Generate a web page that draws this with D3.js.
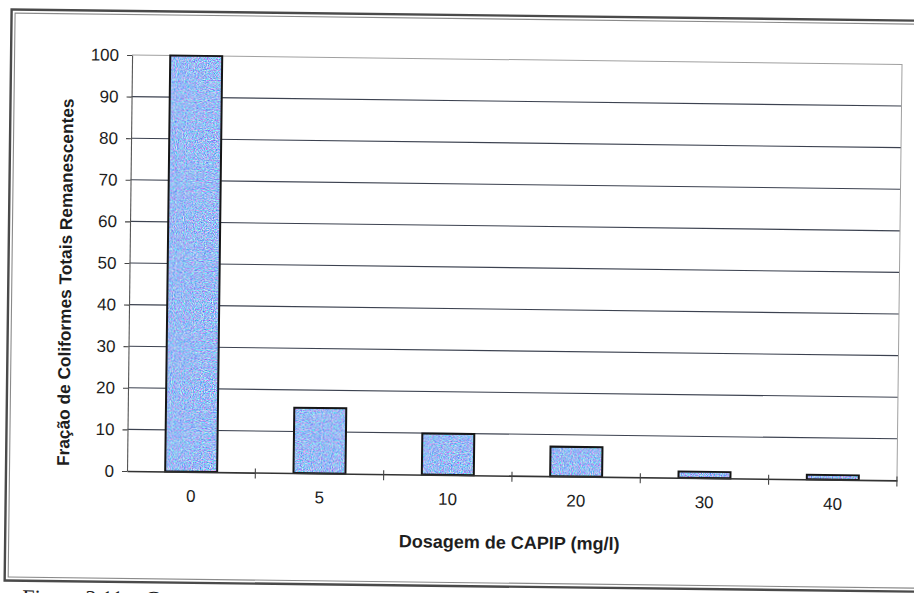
<!DOCTYPE html>
<html>
<head>
<meta charset="utf-8">
<script src="https://cdn.jsdelivr.net/npm/d3@7"></script>
<style>
  html, body { margin: 0; padding: 0; background: #fff; }
  svg { display: block; }
  text { font-family: "Liberation Sans", Arial, sans-serif; fill: #1e1e1e; }
</style>
</head>
<body>
<svg id="chart" width="914" height="593"></svg>
<script>
// Remaining total coliform fraction per CAPIP dose
const doses = ["0", "5", "10", "20", "30", "40"];
const remaining = [100, 15.7, 9.9, 7.1, 1.5, 1.1];
const yTicks = [0, 10, 20, 30, 40, 50, 60, 70, 80, 90, 100];
const yTitle = "Fração de Coliformes Totais Remanescentes";
const xTitle = "Dosagem de CAPIP (mg/l)";
const caption = "Figura 3.11 – Co";

const W = 914, H = 593;
const plot = { left: 127, top: 55, width: 770, height: 416 };
const tilt = 0.7; // the printed page sits slightly skewed

const svg = d3.select("#chart");
const defs = svg.append("defs");

// grainy light-blue fill used by the bars
const grain = defs.append("filter").attr("id", "grain")
  .attr("x", 0).attr("y", 0).attr("width", 1).attr("height", 1)
  .attr("color-interpolation-filters", "sRGB");
grain.append("feTurbulence").attr("type", "fractalNoise")
  .attr("baseFrequency", 0.9).attr("numOctaves", 2).attr("seed", 7).attr("result", "n");
grain.append("feColorMatrix").attr("in", "n").attr("type", "matrix")
  .attr("values", "0 1.3 0 0 -0.05  1.2 0 0 0 0.13  0 0 0.4 0 0.76  0 0 0 0 1")
  .attr("result", "c");
grain.append("feComposite").attr("in", "c").attr("in2", "SourceGraphic").attr("operator", "in");

const root = svg.append("g")
  .attr("transform", `rotate(${tilt}, ${plot.left}, ${plot.top + plot.height})`);

// outer double frame
root.append("rect").attr("x", 6).attr("y", 11).attr("width", 960).attr("height", 571)
  .attr("fill", "none").attr("stroke", "#4a4a4a").attr("stroke-width", 2.4);
root.append("rect").attr("x", 9.5).attr("y", 14.5).attr("width", 955).attr("height", 564)
  .attr("fill", "none").attr("stroke", "#8a8a8a").attr("stroke-width", 1.1);

const g = root.append("g").attr("transform", `translate(${plot.left},${plot.top})`);

const x = d3.scaleBand().domain(doses).range([0, plot.width]).padding(0);
const y = d3.scaleLinear().domain([0, 100]).range([plot.height, 0]);

// horizontal gridlines
g.append("g").selectAll("line")
  .data(yTicks.filter(v => v > 0 && v < 100))
  .join("line")
  .attr("x1", 0).attr("x2", plot.width)
  .attr("y1", d => y(d)).attr("y2", d => y(d))
  .attr("stroke", "#3c4250").attr("stroke-width", 1.1);

// plot area border (top and right)
g.append("path")
  .attr("d", `M0,${y(100)}H${plot.width}V${y(0)}`)
  .attr("fill", "none").attr("stroke", "#a0a0a0").attr("stroke-width", 1);

// bars
const barW = x.bandwidth() * 0.405;
const bars = g.append("g").selectAll("g").data(doses).join("g");
bars.append("rect")
  .attr("x", d => x(d) + (x.bandwidth() - barW) / 2)
  .attr("y", (d, i) => y(remaining[i]))
  .attr("width", barW)
  .attr("height", (d, i) => y(0) - y(remaining[i]))
  .attr("fill", "#a0b8ee")
  .attr("filter", "url(#grain)");
bars.append("rect")
  .attr("x", d => x(d) + (x.bandwidth() - barW) / 2)
  .attr("y", (d, i) => y(remaining[i]))
  .attr("width", barW)
  .attr("height", (d, i) => y(0) - y(remaining[i]))
  .attr("fill", "none")
  .attr("stroke", "#161616").attr("stroke-width", 2);

// y axis
const yAxis = g.append("g")
  .call(d3.axisLeft(y).tickValues(yTicks).tickSize(5).tickSizeOuter(0).tickPadding(8));
yAxis.select(".domain").attr("stroke", "#555").attr("stroke-width", 1.1);
yAxis.selectAll(".tick line").attr("stroke", "#444").attr("stroke-width", 1.1);
yAxis.selectAll(".tick text")
  .style("font-family", "'Liberation Sans', Arial, sans-serif")
  .style("font-size", "17px").attr("fill", "#1e1e1e");

// x axis: labels at band centres, tick marks between categories
const xAxis = g.append("g").attr("transform", `translate(0,${plot.height})`)
  .call(d3.axisBottom(x).tickSize(0).tickPadding(18));
xAxis.select(".domain").attr("stroke", "#333").attr("stroke-width", 1.6);
xAxis.selectAll(".tick text")
  .style("font-family", "'Liberation Sans', Arial, sans-serif")
  .style("font-size", "17px").attr("fill", "#1e1e1e");
xAxis.append("g").selectAll("line")
  .data(doses.slice(1).map(d => x(d)).concat([plot.width]))
  .join("line")
  .attr("x1", d => d).attr("x2", d => d)
  .attr("y1", -4).attr("y2", 6)
  .attr("stroke", "#444").attr("stroke-width", 1.1);

// axis titles
root.append("text")
  .attr("transform", `translate(69,283) rotate(-90)`)
  .attr("text-anchor", "middle")
  .style("font-weight", "bold").style("font-size", "17.3px")
  .text(yTitle);
root.append("text")
  .attr("x", 510).attr("y", 544)
  .attr("text-anchor", "middle")
  .style("font-weight", "bold").style("font-size", "18px")
  .text(xTitle);

// figure caption below the frame
root.append("text")
  .attr("x", 24).attr("y", 606)
  .style("font-family", "'Liberation Serif', 'Times New Roman', serif")
  .style("font-size", "22px")
  .text(caption);
</script>
</body>
</html>
